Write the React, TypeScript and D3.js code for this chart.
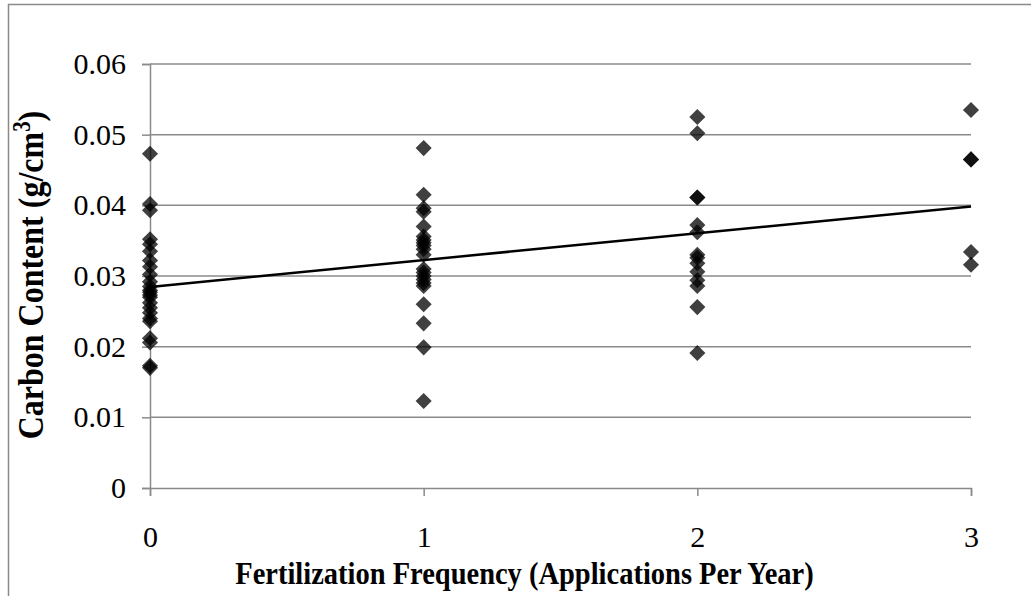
import * as d3 from 'd3'
import React, { useEffect, useRef } from 'react'

// fertilization frequency (applications per year) -> carbon content (g/cm3)
const freq0 = [0.0473, 0.0402, 0.0393, 0.0352, 0.0345, 0.0335, 0.0322, 0.0313, 0.0302, 0.0292, 0.0285, 0.0280,
  0.0277, 0.0273, 0.0270, 0.0262, 0.0255, 0.0248, 0.0240, 0.0236, 0.0212, 0.0206, 0.0173, 0.0170]
const freq1 = [0.0481, 0.0415, 0.0396, 0.0391, 0.0370, 0.0356, 0.0351, 0.0347, 0.0343, 0.0338, 0.0330,
  0.0310, 0.0305, 0.0300, 0.0295, 0.0290, 0.0286, 0.0260, 0.0233, 0.0199, 0.0123]
const freq2 = [0.0525, 0.0502, 0.0411, 0.0411, 0.0372, 0.0362, 0.0330, 0.0326, 0.0318, 0.0306, 0.0294,
  0.0286, 0.0256, 0.0191]
const freq3 = [0.0535, 0.0465, 0.0465, 0.0334, 0.0316]

const xTicks = [0, 1, 2, 3]
const yTicks = [0, 0.01, 0.02, 0.03, 0.04, 0.05, 0.06]

const xTitle = 'Fertilization Frequency (Applications Per Year)'

export default function App() {
  const ref = useRef<SVGSVGElement>(null)

  useEffect(() => {
    const width = 1031
    const height = 596
    const margin = { left: 150, right: 60, top: 64, bottom: 108 }
    const font = '"Liberation Serif", "Times New Roman", serif'

    const svg = d3.select(ref.current)
    svg.selectAll('*').remove()

    const data = [freq0, freq1, freq2, freq3].flatMap((vals, i) => vals.map(v => ({ x: i, y: v })))

    const x = d3.scaleLinear().domain([0, 3]).range([margin.left, width - margin.right])
    const y = d3.scaleLinear().domain([0, 0.06]).range([height - margin.bottom, margin.top])

    // outer chart frame
    svg.append('path')
      .attr('d', `M8.5,${height} V4.5 H${width}`)
      .attr('fill', 'none')
      .attr('stroke', '#8a8a8a')
      .attr('stroke-width', 1.5)

    // gridlines
    svg.append('g')
      .selectAll('line')
      .data(yTicks.filter(t => t > 0))
      .enter().append('line')
      .attr('x1', x(0)).attr('x2', x(3))
      .attr('y1', d => y(d)).attr('y2', d => y(d))
      .attr('stroke', '#8a8a8a')
      .attr('stroke-width', 1.5)

    const yAxis = d3.axisLeft(y).tickValues(yTicks).tickSize(8).tickPadding(16)
      .tickFormat(d => d === 0 ? '0' : d3.format('.2f')(d as number))
    const gy = svg.append('g').attr('transform', `translate(${x(0)},0)`).call(yAxis)

    const xAxis = d3.axisBottom(x).tickValues(xTicks).tickSize(8).tickPadding(30)
      .tickFormat(d3.format('d'))
    const gx = svg.append('g').attr('transform', `translate(0,${y(0)})`).call(xAxis)

    for (const g of [gx, gy]) {
      g.selectAll('.domain').attr('stroke', '#8a8a8a').attr('stroke-width', 1.5)
      g.selectAll('.tick line').attr('stroke', '#8a8a8a').attr('stroke-width', 1.5)
      g.selectAll('.tick text')
        .attr('fill', '#000')
        .style('font-family', font)
        .style('font-size', '30px')
    }
    gx.selectAll('.tick text').attr('dy', '0.71em')

    // least-squares trend line
    const mx = d3.mean(data, d => d.x) as number
    const my = d3.mean(data, d => d.y) as number
    const slope = d3.sum(data, d => (d.x - mx) * (d.y - my)) / d3.sum(data, d => (d.x - mx) ** 2)
    const intercept = my - slope * mx

    const diamond = d3.symbol().type(d3.symbolDiamond2).size(165)
    svg.append('g')
      .selectAll('path')
      .data(data)
      .enter().append('path')
      .attr('d', diamond)
      .attr('transform', d => `translate(${x(d.x)},${y(d.y)})`)
      .attr('fill', '#000')
      .attr('fill-opacity', 0.75)

    svg.append('line')
      .attr('x1', x(0)).attr('y1', y(intercept))
      .attr('x2', x(3)).attr('y2', y(intercept + slope * 3))
      .attr('stroke', '#000')
      .attr('stroke-width', 2.5)

    svg.append('text')
      .attr('transform', `translate(${(x(0) + x(3)) / 2 - 36},584) scale(1,1.1)`)
      .attr('text-anchor', 'middle')
      .style('font-family', font)
      .style('font-size', '28.5px')
      .style('font-weight', 'bold')
      .text(xTitle)

    const yt = svg.append('text')
      .attr('transform', `translate(43,275) rotate(-90) scale(1,1.15)`)
      .attr('text-anchor', 'middle')
      .style('font-family', font)
      .style('font-size', '32px')
      .style('font-weight', 'bold')
    yt.append('tspan').text('Carbon Content (g/cm')
    yt.append('tspan').attr('dy', -11).style('font-size', '21px').text('3')
    yt.append('tspan').attr('dy', 11).text(')')
  }, [])

  return <svg ref={ref} width={1031} height={596} style={{ position: 'absolute', left: 0, top: 0, background: '#fff' }} />
}
